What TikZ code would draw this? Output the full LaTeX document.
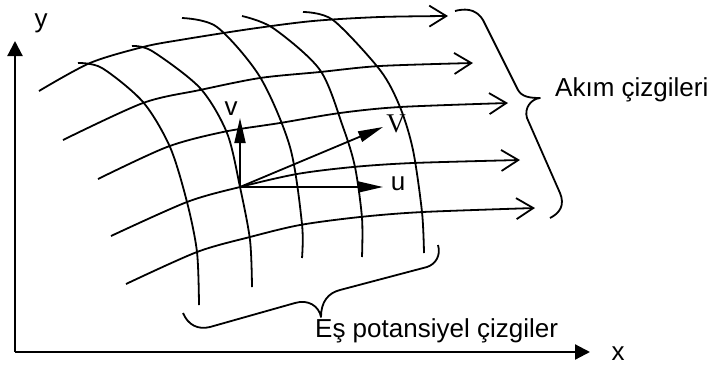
\documentclass[tikz,border=0pt]{standalone}
\usepackage{fontspec}
\setmainfont{Liberation Sans}
\newfontfamily\timesfont{Liberation Serif}
\usetikzlibrary{arrows.meta}
\tikzstyle{streamL}=[line width=1.8pt, -{Straight Barb[length=17pt, width=21pt, line width=1.8pt]}]
\tikzstyle{potL}=[line width=1.8pt]
\tikzstyle{axis}=[line width=2.2pt, -{Triangle[length=15pt, width=15pt]}]
\tikzstyle{vec}=[line width=1.8pt, -{Triangle[length=25pt, width=11pt]}]
\tikzstyle{brace}=[line width=1.8pt, line join=round]
\tikzstyle{lbl}=[font=\fontsize{26}{30}\selectfont, inner sep=0pt]

\begin{document}
\begin{tikzpicture}[x=1pt, y=-1pt]
	\useasboundingbox (0,0) rectangle (713,368);

	% Axes
	\coordinate (corner) at (15,352);
	\coordinate (ytip) at (15,41);
	\coordinate (xtip) at (590,352);
	\draw[axis] (corner) -- (ytip);
	\draw[axis] (corner) -- (xtip);
	\node[lbl, anchor=base] (ylab) at (41,27) {y};
	\node[lbl, anchor=base] (xlab) at (618,360) {x};

	% Streamlines
	\draw[streamL] plot[smooth] coordinates {(39,91) (90,63) (143,47) (180,40) (250,29) (313,21) (380,17) (448,16)};
	\draw[streamL] plot[smooth] coordinates {(63,140) (143,103) (200,90) (260,78) (320,72) (380,66) (473,63)};
	\draw[streamL] plot[smooth] coordinates {(98,179) (167,147) (223,132) (280,123) (340,113) (400,107) (508,103)};
	\draw[streamL] plot[smooth] coordinates {(111,236) (187,202) (240,187) (297,174) (353,167) (413,163) (520,160)};
	\draw[streamL] plot[smooth] coordinates {(126,284) (197,252) (250,237) (300,225) (360,217) (423,212) (535,208)};

	% Equipotential lines
	\draw[potL] plot[smooth] coordinates {(78,63) (102,68) (143,102) (170,147) (187,202) (197,252) (199,305)};
	\draw[potL] plot[smooth] coordinates {(132,46) (152,51) (200,88) (227,133) (240,187) (250,240) (252,287)};
	\draw[potL] plot[smooth] coordinates {(182,18) (217,27) (260,77) (290,147) (302,224) (302,258)};
	\draw[potL] plot[smooth] coordinates {(242,16) (273,28) (320,70) (343,127) (355,167) (362,218) (362,257)};
	\draw[potL] plot[smooth] coordinates {(303,12) (333,20) (380,70) (400,107) (413,150) (422,212) (424,253)};

	% Velocity components
	\coordinate (O) at (240,187);
	\coordinate (vtip) at (240,118);
	\coordinate (utip) at (383,187);
	\coordinate (Vtip) at (383,127);
	\draw[vec] (O) -- (vtip);
	\draw[vec] (O) -- (utip);
	\draw[vec] (O) -- (Vtip);
	\node[lbl, anchor=base] (vlab) at (231,115) {v};
	\node[lbl, anchor=base] (ulab) at (398,190) {u};
	\node[lbl, anchor=base, font=\fontsize{27}{30}\timesfont] (Vlab) at (396,132) {V};

	% Braces
	\draw[brace] (455,11) .. controls (470,7) and (478,12) .. (483,20) -- (518,90)
		.. controls (522,97) and (530,98) .. (540,98)
		.. controls (531,99) and (524,108) .. (527,118) -- (560,193)
		.. controls (565,205) and (560,213) .. (550,218);
	\draw[brace] (183,313) .. controls (188,325) and (198,330) .. (210,327) -- (295,303)
		.. controls (308,299) and (319,306) .. (321,317)
		.. controls (321,302) and (328,293) .. (340,290) -- (427,267)
		.. controls (436,264) and (441,255) .. (438,245);
	\node[lbl, anchor=base west] (akim) at (555,96) {Akım çizgileri};
	\node[lbl, anchor=base west] (espot) at (315,337) {Eş potansiyel çizgiler};
\end{tikzpicture}
\end{document}
